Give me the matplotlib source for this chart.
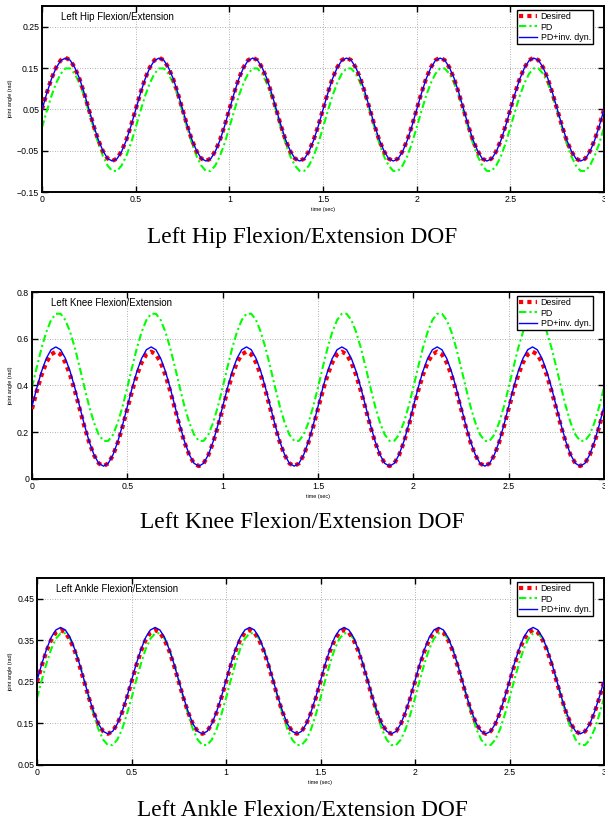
import numpy as np
import matplotlib
matplotlib.use("Agg")
import matplotlib.pyplot as plt

# ---------------- data (one 0.5 s cycle, sampled every 0.025 s; the gait repeats) ----------------
dt = 0.025
n_cycles = 6

hip_desired = [0.050, 0.089, 0.124, 0.151, 0.169, 0.175, 0.169, 0.151, 0.124, 0.089,
               0.050, 0.011, -0.024, -0.051, -0.069, -0.075, -0.069, -0.051, -0.024, 0.011]
hip_pd = [0.006, 0.045, 0.082, 0.113, 0.136, 0.149, 0.149, 0.136, 0.113, 0.082,
          0.045, 0.006, -0.032, -0.063, -0.086, -0.099, -0.099, -0.086, -0.063, -0.032]
hip_pdinv = [0.049, 0.088, 0.123, 0.150, 0.168, 0.174, 0.169, 0.151, 0.125, 0.090,
             0.051, 0.012, -0.023, -0.050, -0.069, -0.075, -0.070, -0.052, -0.025, 0.010]

knee_desired = [0.300, 0.376, 0.444, 0.498, 0.533, 0.545, 0.533, 0.498, 0.444, 0.376,
                0.300, 0.224, 0.156, 0.102, 0.067, 0.055, 0.067, 0.102, 0.156, 0.224]
knee_pd = [0.392, 0.478, 0.560, 0.629, 0.680, 0.707, 0.707, 0.680, 0.629, 0.560,
           0.478, 0.392, 0.310, 0.241, 0.190, 0.163, 0.163, 0.190, 0.241, 0.310]
knee_pdinv = [0.310, 0.389, 0.460, 0.516, 0.553, 0.565, 0.553, 0.516, 0.460, 0.389,
              0.310, 0.231, 0.160, 0.104, 0.067, 0.055, 0.067, 0.104, 0.160, 0.231]

ankle_desired = [0.250, 0.289, 0.324, 0.351, 0.369, 0.375, 0.369, 0.351, 0.324, 0.289,
                 0.250, 0.211, 0.176, 0.149, 0.131, 0.125, 0.131, 0.149, 0.176, 0.211]
ankle_pd = [0.211, 0.254, 0.294, 0.329, 0.354, 0.367, 0.367, 0.354, 0.329, 0.294,
            0.254, 0.211, 0.171, 0.136, 0.111, 0.098, 0.098, 0.111, 0.136, 0.171]
ankle_pdinv = [0.253, 0.293, 0.328, 0.357, 0.375, 0.381, 0.375, 0.357, 0.328, 0.293,
               0.253, 0.213, 0.178, 0.149, 0.131, 0.125, 0.131, 0.149, 0.178, 0.213]

x_ticks = [0, 0.5, 1, 1.5, 2, 2.5, 3]
x_ticklabels = ["0", "0.5", "1", "1.5", "2", "2.5", "3"]
hip_yticks = [-0.15, -0.05, 0.05, 0.15, 0.25]
hip_yticklabels = ["\u22120.15", "\u22120.05", "0.05", "0.15", "0.25"]
knee_yticks = [0, 0.2, 0.4, 0.6, 0.8]
knee_yticklabels = ["0", "0.2", "0.4", "0.6", "0.8"]
ankle_yticks = [0.05, 0.15, 0.25, 0.35, 0.45]
ankle_yticklabels = ["0.05", "0.15", "0.25", "0.35", "0.45"]

titles = ["Left Hip Flexion/Extension", "Left Knee Flexion/Extension", "Left Ankle Flexion/Extension"]
captions = ["Left Hip Flexion/Extension DOF", "Left Knee Flexion/Extension DOF",
            "Left Ankle Flexion/Extension DOF"]
series_names = ["Desired", "PD", "PD+inv. dyn."]


def full(cycle):
    c = np.asarray(cycle, dtype=float)
    return np.concatenate([np.tile(c, n_cycles), c[:1]])


t = np.arange(len(hip_desired) * n_cycles + 1) * dt

W, H = 605, 825
fig = plt.figure(figsize=(W / 100, H / 100), dpi=100)
plt.rcParams['font.family'] = ['Liberation Sans', 'DejaVu Sans']


def rect(left, right, top, bottom):
    return [left / W, 1 - bottom / H, (right - left) / W, (bottom - top) / H]


panels = [
    dict(rect=rect(42, 604, 6, 192), ylim=(-0.15, 0.30), yt=hip_yticks, ytl=hip_yticklabels,
         data=(hip_desired, hip_pd, hip_pdinv), cap_y=237),
    dict(rect=rect(32, 604, 292, 479), ylim=(0.0, 0.8), yt=knee_yticks, ytl=knee_yticklabels,
         data=(knee_desired, knee_pd, knee_pdinv), cap_y=523),
    dict(rect=rect(37, 604, 578, 765), ylim=(0.05, 0.50), yt=ankle_yticks, ytl=ankle_yticklabels,
         data=(ankle_desired, ankle_pd, ankle_pdinv), cap_y=810),
]

for i, p in enumerate(panels):
    ax = fig.add_axes(p["rect"])
    d, pd_, pdi = p["data"]
    ax.plot(t, full(d), color=(1, 0, 0), lw=3.0, linestyle=(0, (1.0, 1.0)),
            dash_capstyle='butt', label=series_names[0], zorder=3)
    ax.plot(t, full(pd_), color=(0, 1, 0), lw=1.5, linestyle=(0, (3.5, 1.5, 1, 1.5)),
            label=series_names[1], zorder=2)
    ax.plot(t, full(pdi), color=(0, 0, 1), lw=1.0, linestyle='-',
            label=series_names[2], zorder=4)
    ax.set_xlim(0, 3)
    ax.set_ylim(*p["ylim"])
    ax.set_xticks(x_ticks)
    ax.set_xticklabels(x_ticklabels)
    ax.set_yticks(p["yt"])
    ax.set_yticklabels(p["ytl"])
    ax.tick_params(direction='in', length=4, width=1.0, top=True, right=True,
                   labelsize=6.3, pad=2, colors='black')
    ax.grid(True, color='#999999', linestyle=(0, (1, 2)), linewidth=0.6)
    for s in ax.spines.values():
        s.set_linewidth(1.4)
        s.set_color('black')
    ax.set_xlabel("time (sec)", fontsize=4, labelpad=2)
    ax.set_ylabel("joint angle (rad)", fontsize=4, labelpad=3)
    ax.text(0.033, 0.94, titles[i], transform=ax.transAxes, fontsize=7, va='center', ha='left')
    axw = p["rect"][2] * W
    axh = p["rect"][3] * H
    leg = ax.legend(loc='upper right', bbox_to_anchor=(1 - 11 / axw, 1 - 4 / axh),
                    fontsize=6.4, frameon=True, fancybox=False,
                    edgecolor='black', framealpha=1, handlelength=2.1, handletextpad=0.35,
                    borderpad=0.25, labelspacing=0.15, borderaxespad=0.0)
    leg.get_frame().set_linewidth(1.0)
    fig.text(302 / W, 1 - p["cap_y"] / H, captions[i], ha='center', va='center',
             fontsize=16.8, family=['Liberation Serif', 'DejaVu Serif'])

fig.savefig("out.png", dpi=100)
